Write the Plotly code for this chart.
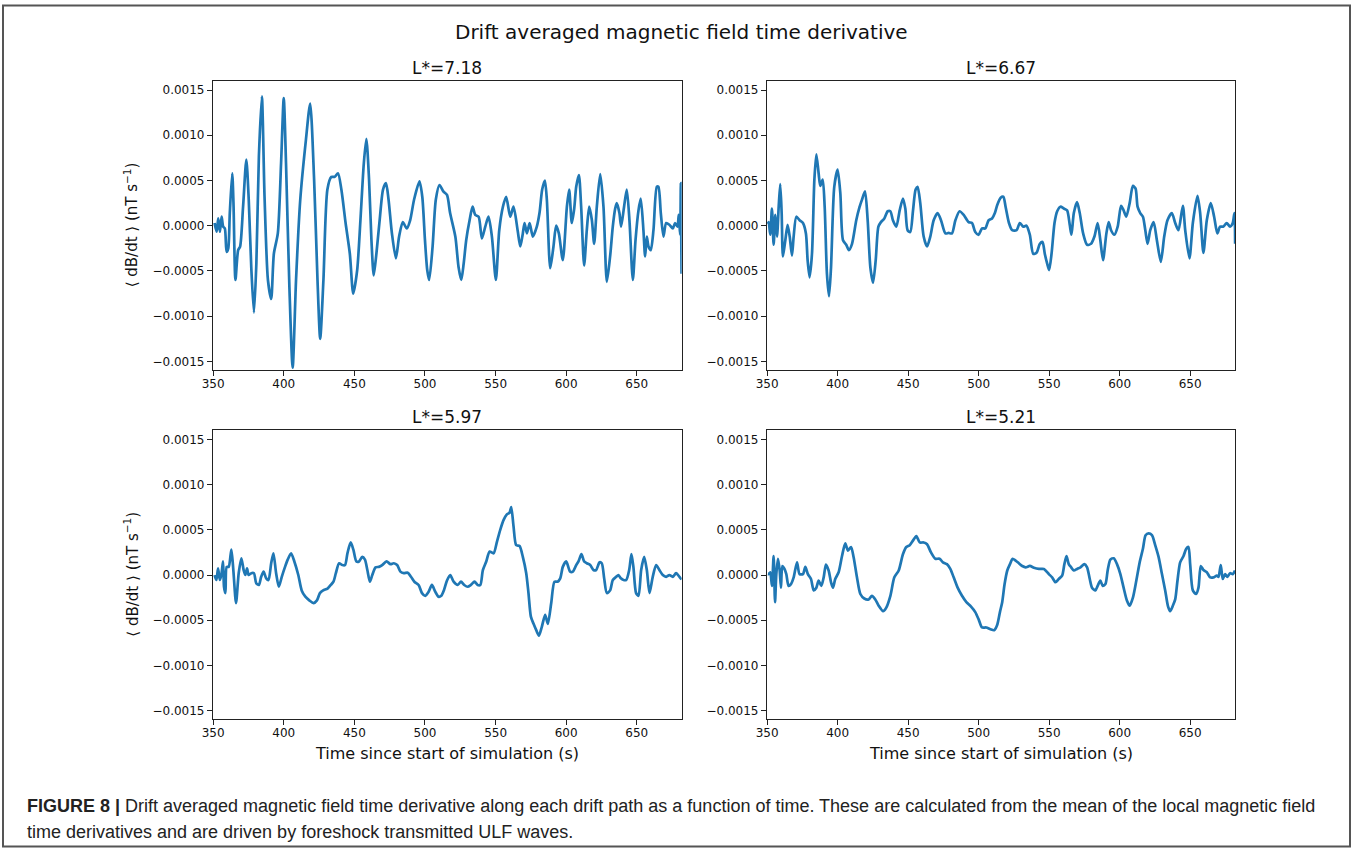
import plotly.graph_objects as go

# ---------------- data ----------------
SCALE = 1e-4  # values below are in units of 1e-4 nT s^-1

t_L718 = [351.0, 352.5, 353.6, 354.8, 356.0, 357.1, 358.3, 359.5, 360.7, 361.8, 363.5, 364.4, 365.8, 367.7,
          369.1, 371.2, 373.5, 375.2, 377.0, 378.9, 380.6, 382.4, 384.5, 386.4, 388.8, 391.1, 393.0, 395.8,
          398.1, 400.0, 401.6, 404.0, 406.3, 408.7, 411.7, 415.7, 418.7, 421.5, 423.9, 425.8, 428.1, 430.9,
          433.7, 436.1, 438.4, 440.8, 443.8, 446.8, 449.2, 452.0, 454.3, 456.7, 458.5, 460.4, 462.1, 463.7,
          465.6, 467.9, 470.3, 472.4, 474.2, 476.6, 479.4, 481.7, 484.3, 487.1, 489.5, 492.3, 496.1, 498.1,
          500.0, 501.6, 503.0, 505.4, 507.7, 510.3, 513.0, 515.6, 517.8, 521.5, 523.8, 525.7, 527.4, 529.2,
          531.6, 533.7, 535.6, 538.0, 540.3, 542.7, 545.0, 547.4, 550.2, 552.6, 555.2, 557.5, 560.4, 562.7,
          565.6, 567.5, 569.3, 570.5, 572.2, 574.1, 576.4, 579.2, 581.1, 583.0, 584.9, 586.3, 588.7, 591.0,
          592.9, 594.8, 597.6, 600.5, 602.1, 604.0, 605.7, 607.1, 609.0, 610.6, 612.7, 614.6, 616.3, 618.2,
          619.8, 621.7, 624.1, 626.4, 628.8, 631.1, 633.0, 634.7, 635.8, 637.7, 638.9, 641.0, 642.9, 644.8,
          647.2, 649.1, 651.2, 652.8, 654.7, 655.9, 657.1, 658.3, 659.9, 661.8, 664.2, 665.3, 667.0, 668.9,
          670.8, 673.1, 675.5, 677.1, 678.8, 679.7, 680.7, 681.2, 681.7]
v_L718 = [0.3, -0.67, 0.8, -0.67, 1.0, -0.1, -0.3, -2.9, -2.5, 1.4, 5.8, 2.5, -6.0, -2.7,
          -2.3, 2.1, 7.3, 2.9, -4.6, -9.6, -4.2, 7.7, 14.3, 3.2, -6.0, -8.1, -3.1, -0.85,
          6.9, 14.1, 6.9, -6.8, -15.7, -6.0, 2.9, 9.5, 13.5, 5.1, -6.0, -12.5, -6.0, 4.0,
          5.4, 5.4, 5.8, 4.0, 0.3, -3.1, -7.5, -4.9, 0.6, 6.9, 9.6, 5.1, -1.6, -5.5,
          -3.1, 0.6, 4.0, 4.7, 2.9, -0.85, -3.6, -1.2, 0.4, -0.3, 0.6, 2.9, 4.9, 3.2,
          -1.6, -4.9, -6.0, -2.3, 2.9, 4.5, 3.8, 3.4, 1.4, -1.2, -4.6, -6.0, -4.2, -1.6,
          0.6, 2.1, 1.2, 1.0, -1.4, -0.1, 1.0, -1.2, -6.0, -0.5, 2.1, 3.2, 1.0, 2.1,
          -0.5, -2.3, -0.85, 0.3, -0.85, 0.3, -1.2, -0.1, 1.4, 4.0, 5.0, 2.9, -4.7, -2.3,
          0.0, -0.85, -3.8, 2.1, 4.0, 0.3, 1.9, 4.3, 5.6, 2.1, -4.4, -0.5, 2.1, 0.6,
          -2.0, 2.1, 5.7, 2.1, -6.2, -3.4, -0.1, 1.9, 2.5, 1.4, -0.1, 2.1, 4.0, 0.6,
          -6.0, -1.6, 1.7, 3.0, -0.5, -3.4, -1.2, -2.3, -2.7, -0.5, 4.3, 4.3, 1.4, -1.2,
          0.3, 0.1, -0.3, 0.3, -0.1, 1.2, -1.0, 4.7, -5.3]

t_L667 = [350.5, 351.1, 352.2, 353.4, 354.6, 355.8, 357.0, 358.2, 359.3, 360.3, 361.2, 362.9, 364.5, 366.0,
          367.6, 368.8, 370.7, 373.0, 375.4, 377.5, 378.7, 380.1, 381.8, 383.5, 384.9, 386.5, 387.7, 389.4,
          390.8, 392.4, 393.9, 395.3, 397.6, 400.0, 401.9, 403.8, 406.1, 408.0, 410.2, 413.2, 415.6, 417.3,
          419.4, 421.3, 423.2, 425.1, 427.0, 428.9, 430.7, 433.1, 435.5, 437.4, 439.2, 441.6, 444.0, 446.3,
          448.0, 449.6, 451.5, 453.4, 455.3, 456.7, 458.6, 461.0, 463.4, 465.7, 468.1, 470.9, 473.3, 476.4,
          478.7, 481.1, 483.5, 486.5, 489.4, 492.9, 495.3, 497.6, 500.0, 502.4, 504.7, 507.1, 509.5, 511.5,
          513.2, 515.6, 517.5, 519.1, 521.5, 523.8, 526.9, 529.2, 531.6, 533.9, 536.3, 538.7, 541.0, 543.4,
          545.3, 546.9, 548.6, 550.0, 551.7, 553.8, 555.7, 558.0, 560.4, 562.7, 564.6, 565.8, 567.5, 569.8,
          571.7, 574.1, 576.9, 579.7, 582.1, 584.4, 586.3, 588.2, 590.6, 592.2, 593.9, 596.2, 598.6, 601.0,
          602.8, 604.7, 607.1, 609.4, 611.3, 612.7, 614.6, 616.5, 618.2, 619.8, 621.7, 624.1, 626.4, 629.2,
          631.6, 633.9, 637.0, 639.4, 641.7, 644.8, 646.5, 649.5, 651.9, 655.2, 657.1, 659.4, 661.8, 664.6,
          667.0, 669.3, 671.2, 673.6, 675.9, 678.3, 680.2, 681.4, 681.9]
v_L667 = [0.2, 0.4, -1.0, 1.9, -2.1, 1.2, -1.2, 2.1, 4.6, 1.4, -3.4, -1.6, 0.1, -1.2,
          -3.3, -1.2, 1.0, 0.6, 0.3, -0.85, -3.8, -5.7, -3.1, 5.1, 7.9, 5.8, 4.4, 5.1,
          2.1, -5.3, -7.8, -4.6, 4.3, 6.2, 3.6, -1.6, -2.1, -2.7, -2.0, 0.6, 2.1, 2.9,
          3.8, 0.6, -4.6, -6.3, -3.8, -0.1, 0.4, 0.8, 1.6, 1.6, 0.6, -0.1, 1.7, 3.0,
          1.9, -0.5, -0.7, 1.6, 4.0, 4.3, 2.5, -1.2, -2.3, -1.2, 0.6, 1.4, 0.6, -0.85,
          -0.8, -0.85, 0.6, 1.6, 1.2, 0.4, 0.3, -0.7, -1.0, -0.3, -0.3, 0.6, 0.8, 1.4,
          2.3, 3.1, 3.2, 2.1, 0.3, -0.5, -0.5, 0.3, -0.1, 0.0, -1.0, -3.1, -3.0, -2.0,
          -1.8, -3.1, -4.2, -4.9, -3.1, 0.3, 1.6, 2.1, 1.9, 1.7, 0.1, -1.0, 1.4, 2.6,
          1.4, -0.85, -2.1, -2.0, -1.2, 0.3, -1.6, -3.8, -0.85, 0.4, -0.5, -1.0, -0.1, 2.2,
          1.7, 1.0, 2.5, 4.4, 4.1, 2.1, 1.4, 1.0, -0.5, -2.0, -0.5, 0.4, -1.6, -4.0,
          -1.2, 0.6, 1.4, 0.3, -0.5, 2.2, -0.5, -3.6, 0.3, 3.3, 1.4, -3.0, 0.6, 2.5,
          1.0, -0.85, -0.1, -0.1, 0.3, -0.1, 0.3, 1.4, -2.0]

t_L597 = [351.0, 352.3, 353.5, 354.7, 355.8, 357.0, 357.7, 358.7, 359.6, 361.0, 362.9, 364.3, 366.2, 368.1,
          370.0, 371.6, 372.8, 374.0, 375.1, 377.0, 378.9, 380.5, 382.4, 384.0, 385.7, 387.6, 389.2, 391.1,
          392.7, 394.6, 396.5, 398.6, 400.9, 402.8, 405.2, 407.5, 410.3, 412.7, 415.3, 418.1, 421.1, 423.5,
          425.6, 427.9, 431.0, 433.3, 435.2, 436.9, 439.2, 441.5, 443.4, 445.1, 447.4, 449.3, 451.4, 453.3,
          455.6, 457.5, 459.2, 461.0, 462.7, 465.0, 467.4, 469.7, 472.8, 475.6, 477.9, 480.3, 482.6, 485.0,
          487.8, 490.1, 492.5, 495.5, 497.9, 500.2, 502.6, 504.9, 507.3, 509.6, 511.5, 513.6, 515.6, 517.9,
          520.3, 523.2, 525.5, 527.8, 530.2, 532.5, 535.1, 537.3, 539.2, 541.0, 543.4, 545.8, 548.6, 551.0,
          553.3, 555.7, 558.0, 559.9, 561.1, 562.7, 564.6, 567.0, 569.3, 571.7, 573.3, 575.0, 576.9, 578.8,
          580.7, 582.8, 585.1, 587.0, 589.4, 591.7, 593.9, 595.8, 597.6, 600.0, 602.8, 604.7, 607.1, 608.7,
          610.8, 612.7, 614.6, 617.0, 619.3, 621.2, 623.6, 625.2, 626.9, 628.8, 631.1, 633.0, 635.4, 637.0,
          638.7, 640.6, 642.5, 644.6, 646.2, 647.6, 649.5, 651.2, 653.1, 655.2, 657.1, 659.0, 661.3, 663.7,
          666.0, 668.4, 670.8, 673.1, 675.5, 677.8, 680.2, 681.7]
v_L597 = [0.0, -0.55, 0.74, -0.55, 0.0, 1.5, -1.3, -2.0, 0.9, 0.9, 2.8, 0.55, -3.1, 0.2,
          1.85, 0.55, 0.0, 0.74, 0.0, 0.2, 0.2, -0.9, -1.1, -0.2, 0.37, -0.37, -0.55, 1.3,
          2.4, 0.2, -1.3, -0.2, 0.9, 1.7, 2.4, 1.5, 0.0, -1.7, -2.4, -2.8, -3.1, -2.8,
          -2.0, -1.7, -1.5, -1.1, -0.74, 0.2, 1.3, 1.1, 1.1, 2.4, 3.6, 2.8, 1.5, 1.5,
          2.0, 1.7, 0.55, -0.74, 0.0, 0.85, 0.9, 1.1, 1.5, 1.2, 1.3, 1.1, 0.37, 0.2,
          0.26, -0.2, -0.74, -1.1, -2.0, -2.3, -1.85, -1.1, -1.85, -2.4, -2.3, -1.6, -0.6, 0.0,
          -0.74, -1.1, -0.74, -1.1, -1.3, -1.1, -0.74, -1.1, -1.1, 0.55, 1.5, 2.6, 2.4, 3.7,
          5.0, 6.1, 6.7, 6.9, 7.5, 5.4, 3.3, 3.2, 2.0, 0.2, -2.0, -4.6, -5.4, -6.1,
          -6.7, -5.7, -4.4, -5.4, -3.1, -0.74, -0.74, -0.37, 0.9, 1.5, 0.37, 0.37, 1.1, 1.5,
          2.3, 1.5, 1.3, 1.1, 0.55, 0.55, 1.4, 1.3, -0.37, -2.0, -1.7, -0.55, -0.2, 0.0,
          -0.37, -0.55, -0.55, 0.55, 2.3, 0.9, -2.0, -2.3, 0.55, 2.0, 0.55, -2.0, -0.2, 1.1,
          0.55, 0.0, -0.2, 0.0, -0.2, 0.2, -0.2, -0.5]

t_L521 = [350.5, 351.1, 352.2, 353.4, 354.6, 355.6, 356.5, 357.7, 358.9, 359.8, 360.8, 362.2, 363.6, 365.2,
          366.9, 368.8, 371.2, 373.0, 375.4, 377.1, 378.9, 381.1, 383.0, 384.9, 386.5, 388.4, 390.1, 391.7,
          393.6, 395.3, 396.7, 398.3, 400.7, 403.1, 405.4, 407.3, 409.5, 411.3, 413.7, 416.1, 418.9, 422.0,
          424.3, 426.7, 429.1, 432.2, 434.5, 437.4, 440.2, 443.3, 446.3, 448.7, 451.1, 453.4, 455.8, 458.2,
          461.0, 463.4, 466.2, 469.3, 472.3, 474.7, 477.5, 479.9, 482.3, 485.1, 488.2, 491.3, 494.6, 497.6,
          500.0, 502.4, 505.4, 508.4, 511.0, 513.2, 515.1, 516.7, 518.4, 520.3, 522.2, 524.1, 526.2, 528.5,
          530.9, 533.3, 536.3, 539.2, 542.7, 546.2, 549.8, 552.1, 554.5, 556.8, 559.2, 560.8, 562.3, 563.9,
          565.6, 567.5, 569.8, 572.2, 575.0, 576.9, 578.8, 580.4, 582.8, 584.4, 586.3, 588.0, 589.9, 591.5,
          593.4, 595.8, 598.1, 600.5, 602.8, 605.2, 607.1, 609.4, 611.8, 614.2, 616.5, 618.4, 620.5, 622.9,
          625.2, 627.6, 630.0, 632.3, 634.2, 635.8, 637.7, 639.4, 641.0, 642.9, 645.3, 647.2, 648.8, 650.0,
          651.9, 654.2, 655.9, 657.5, 659.4, 661.8, 664.2, 666.5, 668.9, 670.1, 671.7, 673.1, 674.8, 676.4,
          678.3, 680.2, 681.8]
v_L521 = [0.1, 0.1, 0.3, -1.2, 2.1, -3.0, 0.1, 1.8, 0.5, -1.4, 1.0, 0.7, 0.1, -1.2,
          -1.0, -0.26, 1.4, 0.1, 0.1, 0.9, 0.1, -0.44, -1.7, -1.4, -0.63, -1.2, -0.26, 1.15,
          0.5, -0.8, -1.4, -0.44, 0.3, 2.1, 3.5, 2.7, 3.1, 2.0, -0.26, -2.1, -2.6, -2.7,
          -2.3, -2.7, -3.4, -4.0, -3.6, -2.3, -0.26, 0.5, 2.3, 3.1, 3.3, 3.8, 4.3, 3.6,
          3.6, 3.4, 2.5, 1.8, 1.8, 1.4, 1.2, 0.67, -0.26, -1.4, -2.3, -3.0, -3.5, -4.1,
          -4.9, -5.8, -5.8, -6.0, -6.1, -5.5, -4.1, -3.0, -1.0, 0.5, 1.2, 1.8, 1.6, 1.3,
          1.0, 0.85, 1.0, 0.8, 0.67, 0.67, 0.1, -0.26, -0.8, -0.44, -0.07, 1.2, 2.1, 1.2,
          0.85, 0.5, 0.67, 0.85, 1.2, 0.85, -0.44, -1.4, -1.7, -1.2, -0.63, -1.2, -1.0, 0.5,
          1.7, 1.85, 1.2, 0.1, -1.4, -2.85, -3.4, -2.5, -0.63, 1.4, 2.9, 4.4, 4.6, 4.4,
          3.3, 2.0, 0.1, -1.7, -3.4, -4.0, -3.4, -2.7, -0.63, 1.4, 2.1, 2.9, 3.1, 1.2,
          -1.7, -2.1, -1.4, 1.0, 0.56, 0.3, -0.26, -0.26, -0.07, -0.2, 1.1, -0.44, 0.1, -0.2,
          0.2, 0.1, 0.5]

panel_titles = ["L*=7.18", "L*=6.67", "L*=5.97", "L*=5.21"]
panel_times = [t_L718, t_L667, t_L597, t_L521]
panel_values = [v_L718, v_L667, v_L597, v_L521]

x_tick_vals = [350, 400, 450, 500, 550, 600, 650]
x_tick_text = ["350", "400", "450", "500", "550", "600", "650"]
y_tick_vals = [-0.0015, -0.0010, -0.0005, 0.0, 0.0005, 0.0010, 0.0015]
y_tick_text = ["\u22120.0015", "\u22120.0010", "\u22120.0005", "0.0000", "0.0005", "0.0010", "0.0015"]

suptitle = "Drift averaged magnetic field time derivative"
x_label = "Time since start of simulation (s)"
y_label = "\u27e8 dB/dt \u27e9 (nT s<sup>\u22121</sup>)"
caption_1 = ("<b>FIGURE 8 |</b> Drift averaged magnetic field time derivative along each drift path as a "
             "function of time. These are calculated from the mean of the local magnetic field")
caption_2 = "time derivatives and are driven by foreshock transmitted ULF waves."

# ---------------- layout geometry ----------------
W, H = 1354, 852
FONT = "DejaVu Sans"
LINE_COLOR = "#1f77b4"
AX_COLOR = "#222222"

col_x = [(213 / W, 681.7 / W), (767 / W, 1235 / W)]
row_y = [(1 - 370 / H, 1 - 80.7 / H), (1 - 719.3 / H, 1 - 430 / H)]
title_py = [68, 417]
x_range = [349.9, 681.8]
y_range = [-0.001595, 0.001603]

fig = go.Figure()
annotations = []

for i in range(4):
    r, c = divmod(i, 2)
    n = i + 1
    xa = "x" if n == 1 else f"x{n}"
    ya = "y" if n == 1 else f"y{n}"
    fig.add_trace(go.Scatter(
        x=panel_times[i], y=[v * SCALE for v in panel_values[i]],
        mode="lines", line=dict(color=LINE_COLOR, width=2.7, shape="spline", smoothing=0.7),
        xaxis=xa, yaxis=ya, showlegend=False, hoverinfo="skip"))
    axis_common = dict(showline=True, mirror=True, linecolor=AX_COLOR, linewidth=1.2,
                       ticks="outside", ticklen=5, tickwidth=1.1, tickcolor=AX_COLOR,
                       showgrid=False, zeroline=False,
                       tickfont=dict(family=FONT, size=12, color="#111111"))
    fig.layout[f"xaxis{'' if n == 1 else n}"] = dict(
        domain=list(col_x[c]), anchor=ya, range=x_range, ticklabelstandoff=-3,
        tickvals=x_tick_vals, ticktext=x_tick_text, **axis_common)
    fig.layout[f"yaxis{'' if n == 1 else n}"] = dict(
        domain=list(row_y[r]), anchor=xa, range=y_range,
        tickvals=y_tick_vals, ticktext=y_tick_text, **axis_common)

    cx = (col_x[c][0] + col_x[c][1]) / 2
    annotations.append(dict(text=panel_titles[i], x=cx, y=1 - title_py[r] / H, xref="paper", yref="paper",
                            xanchor="center", yanchor="middle", showarrow=False,
                            font=dict(family=FONT, size=17, color="#111111")))
    if r == 1:
        annotations.append(dict(text=x_label, x=cx, y=1 - 753 / H, xref="paper", yref="paper",
                                xanchor="center", yanchor="middle", showarrow=False,
                                font=dict(family=FONT, size=16, color="#111111")))
    if c == 0:
        cy = (row_y[r][0] + row_y[r][1]) / 2
        annotations.append(dict(text=y_label, x=131 / W, y=cy, xref="paper", yref="paper",
                                xanchor="center", yanchor="middle", textangle=-90, showarrow=False,
                                font=dict(family=FONT, size=15, color="#111111")))

annotations.append(dict(text=suptitle, x=681 / W, y=1 - 32 / H, xref="paper", yref="paper",
                        xanchor="center", yanchor="middle", showarrow=False,
                        font=dict(family=FONT, size=20, color="#111111")))
annotations.append(dict(text=caption_1, x=25 / W, y=1 - 806 / H, xref="paper", yref="paper",
                        xanchor="left", yanchor="middle", showarrow=False,
                        font=dict(family="Liberation Sans", size=18, color="#222222")))
annotations.append(dict(text=caption_2, x=25 / W, y=1 - 832 / H, xref="paper", yref="paper",
                        xanchor="left", yanchor="middle", showarrow=False,
                        font=dict(family="Liberation Sans", size=18, color="#222222")))

fig.update_layout(
    width=W, height=H, autosize=False, margin=dict(l=0, r=0, t=0, b=0, autoexpand=False),
    paper_bgcolor="white", plot_bgcolor="white",
    annotations=annotations,
    shapes=[dict(type="rect", xref="paper", yref="paper",
                 x0=3 / W, x1=1350 / W, y0=1 - 846.5 / H, y1=1 - 5.5 / H,
                 line=dict(color="#555555", width=2), layer="above")],
)

fig.write_html(
    "out.html",
    config={"displayModeBar": False, "responsive": False},
    post_script=("document.documentElement.style.margin='0px';"
                 "document.body.style.margin='0px';"
                 "document.documentElement.style.overflow='hidden';"
                 "document.body.style.overflow='hidden';"),
)
